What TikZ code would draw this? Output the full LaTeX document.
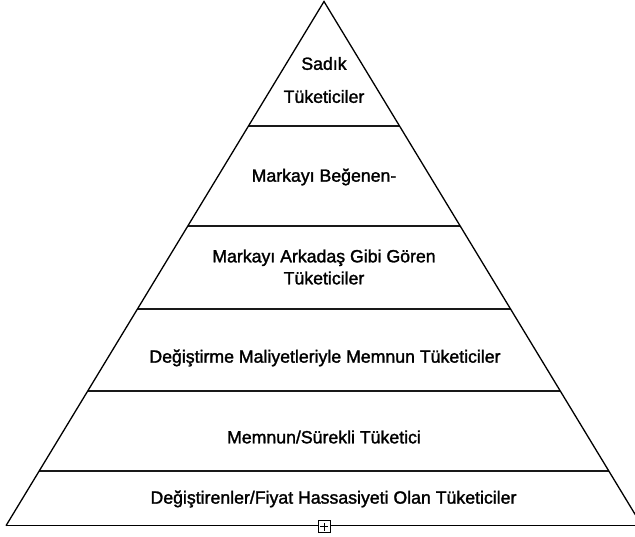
\documentclass[tikz,border=0pt]{standalone}
\usepackage{fontspec}
\setmainfont{Liberation Sans}[FakeBold=1.6]
\usetikzlibrary{calc}
\begin{document}
\begin{tikzpicture}[x=1pt,y=-1pt,
  side/.style={line width=1.3pt,black},
  level/.style={line width=2.2pt,black!90},
  lbl/.style={font=\fontsize{17.7}{22}\selectfont,align=center,inner sep=0pt}]
\useasboundingbox (0,0) rectangle (635,536);
\begin{scope}
\clip (0,0) rectangle (635,536);
\coordinate (A) at (324,1.5);
\coordinate (L) at (6,525.7);
\coordinate (R) at (642,525.7);
\foreach \t/\n in {0.2369/1,0.4277/2,0.5872/3,0.7430/4,0.8960/5}{
  \coordinate (l\n) at ($(A)!\t!(L)$);
  \coordinate (r\n) at ($(A)!\t!(R)$);
}
\foreach \n in {1,...,5}{\draw[level] (l\n) -- (r\n);}
\draw[side] (L) -- (A) -- (R);
\draw[line width=1.2pt] (L) -- (R);
\end{scope}
\node[draw,fill=white,line width=0.9pt,minimum size=12pt,inner sep=0pt] (plus) at (324,526.7) {};
\draw[line width=0.8pt] ($(plus.west)+(2.5,0)$) -- ($(plus.east)+(-2.5,0)$);
\draw[line width=0.8pt] ($(plus.north)+(0,2.5)$) -- ($(plus.south)+(0,-2.5)$);
\node[lbl] (t1) at (324,80) {Sadık\\[11pt]Tüketiciler};
\node[lbl] (t2) at (324,177) {Markayı Beğenen-};
\node[lbl] (t3) at (324,267) {Markayı Arkadaş Gibi Gören\\Tüketiciler};
\node[lbl] (t4) at (325,358) {Değiştirme Maliyetleriyle Memnun Tüketiciler};
\node[lbl] (t5) at (324,437) {Memnun/Sürekli Tüketici};
\node[lbl] (t6) at (333.5,499) {Değiştirenler/Fiyat Hassasiyeti Olan Tüketiciler};
\end{tikzpicture}
\end{document}
